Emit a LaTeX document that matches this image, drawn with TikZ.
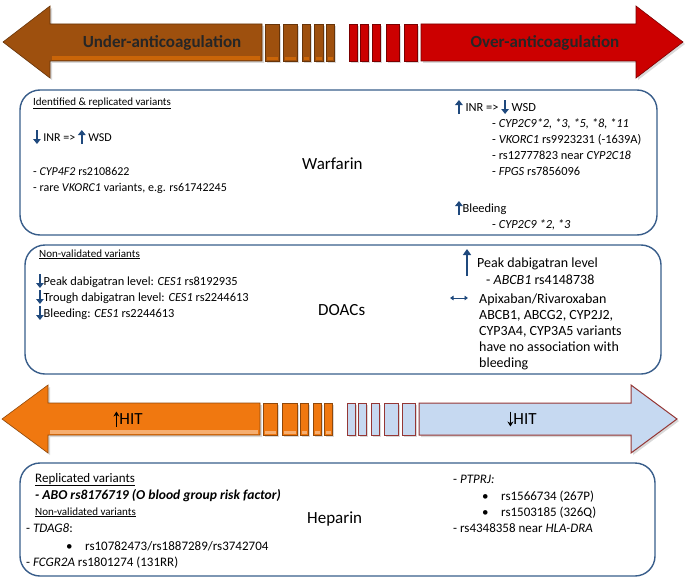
\documentclass[tikz,border=0pt]{standalone}
\usepackage{fontspec}
\setmainfont{Carlito}
\usetikzlibrary{arrows.meta,shadows}
\definecolor{boxblue}{RGB}{56,93,138}
\definecolor{arrblue}{RGB}{31,73,125}
\definecolor{underbrown}{RGB}{158,80,14}
\definecolor{overred}{RGB}{204,0,0}
\definecolor{hitorange}{RGB}{240,120,16}
\definecolor{hitblue}{RGB}{198,217,241}
\definecolor{hitrim}{RGB}{149,55,53}
% small arrows inside the text lines
\newcommand{\upa}{\tikz[baseline=0pt]\draw[arrblue,line width=1.6pt,-{Triangle[length=5pt,width=7.5pt]}] (0pt,-3pt) -- (0pt,11pt);}
\newcommand{\dna}{\tikz[baseline=0pt]\draw[arrblue,line width=1.6pt,-{Triangle[length=5pt,width=7.5pt]}] (0pt,11pt) -- (0pt,-3pt);}
\newcommand{\hup}{\tikz[baseline=0pt]\draw[line width=1pt,-{Stealth[length=5pt,width=6pt]}] (0pt,-2pt) -- (0pt,13pt);}
\newcommand{\hdn}{\tikz[baseline=0pt]\draw[line width=1pt,-{Stealth[length=5pt,width=6pt]}] (0pt,13pt) -- (0pt,-2pt);}
\begin{document}
\begin{tikzpicture}[x=1pt,y=-1pt,
  txt/.style={anchor=base west,inner sep=0pt,font=\fontsize{12}{14}\selectfont},
  txtD/.style={txt,font=\fontsize{12.4}{14}\selectfont},
  txtR/.style={txt,font=\fontsize{14}{16}\selectfont},
  txtH/.style={txt,font=\fontsize{13}{15}\selectfont},
  small/.style={txt,font=\fontsize{11}{13}\selectfont},
  ttl/.style={anchor=west,inner sep=0pt,font=\fontsize{17}{20}\selectfont},
  bartxt/.style={inner sep=0pt,font=\bfseries\fontsize{17}{20}\selectfont,text=black!85},
  hittxt/.style={inner sep=0pt,font=\fontsize{17}{20}\selectfont},
  panel/.style={draw=boxblue,line width=1.4pt,rounded corners=20pt},
  shade/.style={drop shadow={shadow xshift=2pt,shadow yshift=-2pt,opacity=0.3}},
  underpart/.style={draw=underbrown!65!black,fill=underbrown,line width=0.6pt,shade},
  overpart/.style={draw=overred!60!black,fill=overred,line width=0.6pt,shade},
  hitupart/.style={draw=hitorange!60!black,fill=hitorange,line width=0.6pt,shade},
  hitdpart/.style={draw=hitrim,fill=hitblue,line width=1pt,shade}]
\useasboundingbox (0,0) rectangle (685,586);

% top bar
\filldraw[underpart] (3,42) -- (50,6) -- (50,24) -- (262,24) -- (262,61) -- (50,61) -- (50,78) -- cycle;
\fill[underbrown!55!orange] (52,56) rectangle (260,60);
\foreach \a/\b in {265/279,283/297,302/310,314/323,326/334}{
  \filldraw[underpart] (\a,24) rectangle (\b,61);
  \fill[underbrown!55!orange] (\a+1.5,57) rectangle (\b-1.5,60);}
\foreach \a/\b in {349/357,360/368,372/380,386/399,404/417}
  \filldraw[overpart] (\a,24) rectangle (\b,61);
\filldraw[overpart] (421,24) -- (636,24) -- (636,6) -- (683,42) -- (636,78) -- (636,61) -- (421,61) -- cycle;
\node[bartxt] (under) at (162,43) {Under-anticoagulation};
\node[bartxt] (over) at (545,43) {Over-anticoagulation};

% Warfarin
\draw[panel] (20,90) rectangle (657,235);
\node[small] (wRep) at (33,105) {\underline{Identified \& replicated variants}};
\node[txt] (wLow) at (33,141) {\dna{} INR => \upa{} WSD};
\node[txt] (wL1) at (33,175) {- \textit{CYP4F2} rs2108622};
\node[txt] (wL2) at (33,191) {- rare \textit{VKORC1} variants, e.g. rs61742245};
\node[ttl] (warf) at (302,164) {Warfarin};
\node[txtD] (wHigh) at (455,111) {\upa{} INR => \dna{} WSD};
\node[txtD] (wR1) at (492,127) {- \textit{CYP2C9*2, *3, *5, *8, *11}};
\node[txtD] (wR2) at (492,143) {- \textit{VKORC1} rs9923231 (-1639A)};
\node[txtD] (wR3) at (492,159) {- rs12777823 near \textit{CYP2C18}};
\node[txtD] (wR4) at (492,175) {- \textit{FPGS} rs7856096};
\node[txtD] (wBl) at (455,212) {\upa{}Bleeding};
\node[txtD] (wR5) at (492,228) {- \textit{CYP2C9 *2, *3}};

% DOACs
\draw[panel] (25,245) rectangle (661,374);
\node[small] (dNon) at (39,257) {\underline{Non-validated variants}};
\node[txtD] (dL1) at (36,285) {\dna{}Peak dabigatran level: \textit{CES1} rs8192935};
\node[txtD] (dL2) at (36,301) {\dna{}Trough dabigatran level: \textit{CES1} rs2244613};
\node[txtD] (dL3) at (36,317) {\dna{}Bleeding: \textit{CES1} rs2244613};
\node[ttl] (doac) at (318,310) {DOACs};
\draw[arrblue,line width=1.8pt,-{Triangle[length=6pt,width=8pt]}] (467,276) -- (467,249);
\node[txtR] (dR1) at (477,267) {Peak dabigatran level};
\node[txtR] (dR2) at (486,284) {- \textit{ABCB1} rs4148738};
\draw[arrblue,line width=1pt,{Triangle[length=3.5pt,width=4.5pt]}-{Triangle[length=3.5pt,width=4.5pt]}] (450,298) -- (468,298);
\node[txtR] (dR3) at (479,303) {Apixaban/Rivaroxaban};
\node[txtR] (dR4) at (479,319) {ABCB1, ABCG2, CYP2J2,};
\node[txtR] (dR5) at (479,335) {CYP3A4, CYP3A5 variants};
\node[txtR] (dR6) at (479,351) {have no association with};
\node[txtR] (dR7) at (479,367) {bleeding};

% HIT bar
\filldraw[hitupart] (2,419) -- (48,385) -- (48,403) -- (260,403) -- (260,435) -- (48,435) -- (48,453) -- cycle;
\fill[hitorange!60!white] (50,430) rectangle (258,434);
\foreach \a/\b in {263/277,282/297,300/308,313/321,324/332}{
  \filldraw[hitupart] (\a,403) rectangle (\b,435);
  \fill[hitorange!60!white] (\a+1.5,431) rectangle (\b-1.5,434);}
\foreach \a/\b in {347/355,358/366,371/379,384/398,402/415}
  \filldraw[hitdpart] (\a,403) rectangle (\b,435);
\filldraw[hitdpart] (419,403) -- (631,403) -- (631,385) -- (677,419) -- (631,453) -- (631,435) -- (419,435) -- cycle;
\node[hittxt] (hitUp) at (128,419) {\hup{}HIT};
\node[hittxt] (hitDn) at (522,419) {\hdn{}HIT};

% Heparin
\draw[panel] (20,463) rectangle (655,576);
\node[txtH] (hRep) at (35,482) {\underline{Replicated variants}};
\node[txtH,font=\fontsize{13.6}{15}\selectfont] (hAbo) at (35,499) {\textbf{\textit{- ABO rs8176719 (O blood group risk factor)}}};
\node[small] (hNon) at (35,515) {\underline{Non-validated variants}};
\node[txtH] (hL1) at (26,532) {- \textit{TDAG8}:};
\node[txtH] (hB1) at (66,550) {\textbullet};
\node[txtH] (hL2) at (85,550) {rs10782473/rs1887289/rs3742704};
\node[txtH] (hL3) at (26,566) {- \textit{FCGR2A} rs1801274 (131RR)};
\node[ttl] (hep) at (307,519) {Heparin};
\node[txtH] (hR1) at (453,483) {- \textit{PTPRJ:}};
\node[txtH] (hB2) at (482,500) {\textbullet};
\node[txtH] (hR2) at (501,500) {rs1566734 (267P)};
\node[txtH] (hB3) at (482,516) {\textbullet};
\node[txtH] (hR3) at (501,516) {rs1503185 (326Q)};
\node[txtH] (hR4) at (453,532) {- rs4348358 near \textit{HLA-DRA}};
\end{tikzpicture}
\end{document}
